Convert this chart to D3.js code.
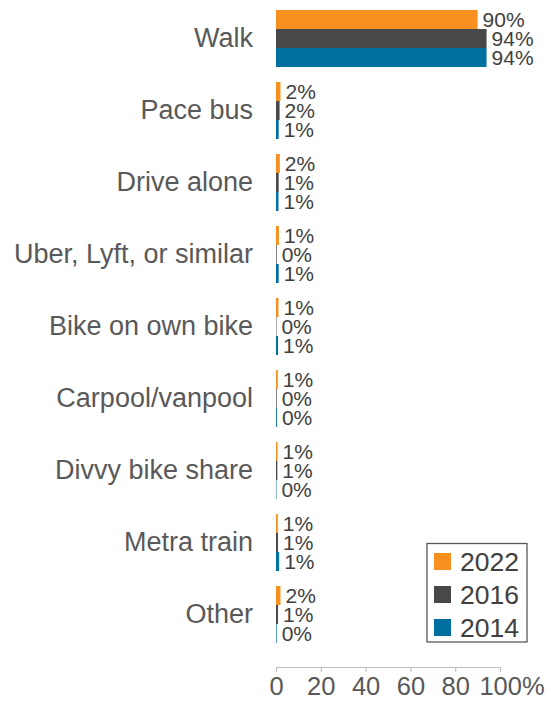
<!DOCTYPE html>
<html>
<head>
<meta charset="utf-8">
<script src="https://cdn.jsdelivr.net/npm/d3@7"></script>
<style>
html,body{margin:0;padding:0;background:#fff;}
svg{display:block;font-family:"Liberation Sans",Arial,sans-serif;}
</style>
</head>
<body>
<svg id="chart" width="551" height="702"></svg>
<script>
const categories = ["Walk","Pace bus","Drive alone","Uber, Lyft, or similar","Bike on own bike","Carpool/vanpool","Divvy bike share","Metra train","Other"];
const seriesNames = ["2022","2016","2014"];
const values2022 = [90, 2.0, 1.7, 1.3, 1.1, 0.8, 0.7, 0.8, 2.0];
const values2016 = [94, 1.6, 1.2, 0.3, 0.2, 0.3, 0.6, 0.9, 0.9];
const values2014 = [94, 1.2, 1.1, 1.2, 0.9, 0.4, 0.2, 1.4, 0.3];
const labels2022 = ["90%","2%","2%","1%","1%","1%","1%","1%","2%"];
const labels2016 = ["94%","2%","1%","0%","0%","0%","1%","1%","1%"];
const labels2014 = ["94%","1%","1%","1%","1%","0%","0%","1%","0%"];
const xTicks = [0,20,40,60,80,100];
const colors = ["#F7901E","#48484A","#0070A0"];

const series = [values2022, values2016, values2014];
const seriesLabels = [labels2022, labels2016, labels2014];

const svg = d3.select("#chart");
const x = d3.scaleLinear().domain([0,100]).range([276,500]);
const y = d3.scaleBand().domain(categories).range([2.5,650.5]).paddingInner(15/72).paddingOuter(7.5/72);
const ys = d3.scaleBand().domain(seriesNames).range([0,y.bandwidth()]);

const groups = svg.append("g").selectAll("g").data(categories).join("g")
  .attr("transform", d => `translate(0,${y(d)})`);

seriesNames.forEach((s, si) => {
  groups.append("rect")
    .attr("x", x(0))
    .attr("y", ys(s))
    .attr("width", (d,i) => x(series[si][i]) - x(0))
    .attr("height", ys.bandwidth())
    .attr("fill", colors[si]);
  groups.append("text")
    .attr("x", (d,i) => x(series[si][i]) + 5)
    .attr("y", ys(s) + ys.bandwidth()/2)
    .attr("dy", "0.36em")
    .attr("font-size", 21)
    .attr("fill", "#404040")
    .text((d,i) => seriesLabels[si][i]);
});

// category labels
svg.append("g").selectAll("text").data(categories).join("text")
  .attr("x", 253)
  .attr("y", d => y(d) + y.bandwidth()/2)
  .attr("dy", "0.3em")
  .attr("text-anchor", "end")
  .attr("font-size", 27)
  .attr("fill", "#595959")
  .text(d => d);

// x axis
const axisG = svg.append("g").attr("transform", "translate(0,667)");
const xAxis = d3.axisBottom(x).tickValues(xTicks).tickSize(5).tickSizeOuter(0)
  .tickFormat(d => d === 100 ? "100%" : String(d));
axisG.call(xAxis);
axisG.select(".domain").attr("stroke", "#BFBFBF").attr("stroke-width", 1.2);
axisG.selectAll(".tick line").attr("stroke", "#BFBFBF").attr("stroke-width", 1.2);
axisG.selectAll(".tick text")
  .attr("font-size", 25.5)
  .attr("font-family", "Liberation Sans, Arial, sans-serif")
  .attr("fill", "#595959")
  .attr("y", 10)
  .attr("dy", "0.71em")
  .attr("dx", d => d === 100 ? 11.5 : 0);

// legend
const lg = svg.append("g");
lg.append("rect").attr("x", 427).attr("y", 543.5).attr("width", 100).attr("height", 98.5)
  .attr("fill", "#fff").attr("stroke", "#595959").attr("stroke-width", 1.3);
seriesNames.forEach((s, i) => {
  lg.append("rect").attr("x", 434).attr("y", 553 + i*33).attr("width", 17).attr("height", 17).attr("fill", colors[i]);
  lg.append("text").attr("x", 460).attr("y", 561.5 + i*33).attr("dy", "0.36em")
    .attr("font-size", 26.5).attr("fill", "#404040").text(s);
});
</script>
</body>
</html>
